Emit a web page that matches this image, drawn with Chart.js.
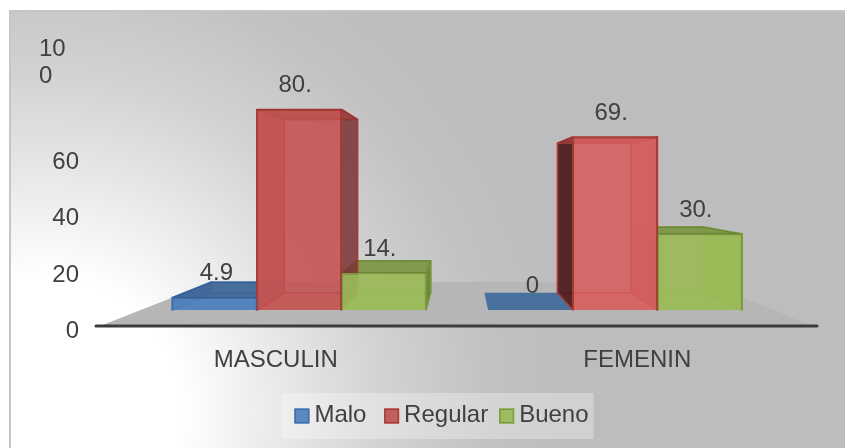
<!DOCTYPE html>
<html><head><meta charset="utf-8">
<script src="https://cdn.jsdelivr.net/npm/chart.js@4"></script>
<style>
html,body{margin:0;padding:0;background:#fff;width:845px;height:448px;overflow:hidden}
#frame{position:absolute;left:9px;top:10px;width:836px;height:438px;box-sizing:border-box;border:solid #c6c6c6;border-width:2px 0 0 2px;
background:radial-gradient(circle 620px at 4% 92%,#ffffff 0,#ffffff 22%,#e6e6e6 40%,#d2d2d2 55%,#c2c2c2 72%,#bdbdbd 85%)}
canvas{position:absolute;left:0;top:0}
</style></head><body>
<div id="frame"></div>
<canvas id="c" width="845" height="448"></canvas>
<script>
const categories=['MASCULIN','FEMENIN'];
const seriesNames=['Malo','Regular','Bueno'];
const malo=[4.9,0];
const regular=[80.2,69.2];
const bueno=[14.8,30.4];
const tickValues=[0,20,40,60,100];

const fills=['rgba(79,129,189,0.88)','rgba(196,84,82,0.84)','rgba(155,187,89,0.92)'];
const regularFronts=['rgba(196,84,82,0.84)','rgba(216,96,96,0.84)'];
const edges=['#3f6ea8','#a83a38','#7a9a3c'];
const legendFills=['#5b87c2','#bf5f5e','#a0bc62'];
const leftSide=['rgba(40,70,110,0.85)','rgba(70,25,25,0.88)','rgba(90,115,50,0.85)'];
const rightSide=['rgba(40,70,110,0.85)','rgba(110,45,45,0.75)','rgba(100,130,55,0.9)'];
const labelShift=[2,-4,-4];
const TEXT='#404040';
const FONT='Liberation Sans';
const VP={x:460,y:183,k:0.865};
function back(p){return [VP.x+(p[0]-VP.x)*VP.k,VP.y+(p[1]-VP.y)*VP.k];}
function poly(ctx,pts,fill,stroke){ctx.beginPath();pts.forEach((p,i)=>i?ctx.lineTo(p[0],p[1]):ctx.moveTo(p[0],p[1]));ctx.closePath();
 if(fill){ctx.fillStyle=fill;ctx.fill();} if(stroke){ctx.strokeStyle=stroke;ctx.lineWidth=1.5;ctx.lineJoin='round';ctx.stroke();}}

const scene={id:'scene',
 beforeDraw(chart){
  const ctx=chart.ctx;
  ctx.save();
  const hb=chart.legend.legendHitBoxes;
  const first=hb[0],last=hb[hb.length-1];
  ctx.fillStyle='rgba(255,255,255,0.3)';
  ctx.fillRect(first.left-18,first.top+first.height/2-22,last.left+last.width-first.left+23,46);
  hb.forEach((h,i)=>{
   const sy=h.top+h.height/2-7.5+1;
   ctx.fillStyle=legendFills[i];ctx.fillRect(h.left-5,sy,15,15);
   ctx.strokeStyle=edges[i];ctx.lineWidth=1.5;ctx.strokeRect(h.left-5+.75,sy+.75,13.5,13.5);
  });
  ctx.restore();
 },
 beforeDatasetsDraw(chart){
  const ctx=chart.ctx,a=chart.chartArea,y=chart.scales.y;
  const axisY=y.getPixelForValue(-6.4);
  ctx.save();
  // floor
  const backY=y.getPixelForValue(11.2);
  poly(ctx,[[a.left+5,axisY],[a.left+117,backY],[a.right-113,backY],[a.right-6,axisY]],'#b6b6b6');
  // axis line
  ctx.strokeStyle='#3c3c3c';ctx.lineWidth=3;ctx.lineCap='round';
  ctx.beginPath();ctx.moveTo(a.left+1,axisY);ctx.lineTo(a.right-1,axisY);ctx.stroke();
  // bar volumes
  [0,2,1].forEach(ds=>{
   chart.getDatasetMeta(ds).data.forEach(b=>{
    const L=b.x-b.width/2,R=b.x+b.width/2,T=b.y,B=b.base;
    const fl=[L,B],fr=[R,B],tl=[L,T],tr=[R,T];
    const bl=back(fl),br=back(fr),ul=back(tl),ur=back(tr);
    if(T>=B-0.5){ poly(ctx,[fl,fr,br,bl],'rgba(60,105,155,0.9)'); return; }
    poly(ctx,[fl,fr,br,bl],fills[ds].replace(/[\d.]+\)$/,'0.55)'));
    poly(ctx,[bl,br,ur,ul],fills[ds].replace(/[\d.]+\)$/,'0.35)'),edges[ds]);
    poly(ctx,[fl,bl,ul,tl],ul[0]<L?leftSide[ds]:fills[ds],edges[ds]);
    poly(ctx,[fr,br,ur,tr],ur[0]>R?rightSide[ds]:fills[ds],edges[ds]);
    poly(ctx,[tl,tr,ur,ul],fills[ds],edges[ds]);
    poly(ctx,[tl,tr,ur,ul],'rgba(0,0,0,0.18)');
   });
  });
  ctx.restore();
 },
 afterDatasetsDraw(chart){
  const ctx=chart.ctx;ctx.save();
  ctx.fillStyle=TEXT;ctx.font='24px "'+FONT+'"';ctx.textAlign='center';ctx.textBaseline='middle';
  chart.data.datasets.forEach((d,ds)=>{
   chart.getDatasetMeta(ds).data.forEach((b,i)=>{
    ctx.fillText(String(d.data[i].y).slice(0,3),b.x+labelShift[ds],b.y-24);
   });
  });
  ctx.restore();
 }};

const toPts=a=>a.map((v,i)=>({x:i+1,y:v}));
new Chart(document.getElementById('c'),{
 type:'bar',
 data:{labels:categories,datasets:[
  {label:seriesNames[0],data:toPts(malo),backgroundColor:fills[0],borderColor:edges[0],borderWidth:1.5},
  {label:seriesNames[1],data:toPts(regular),backgroundColor:regularFronts,borderColor:edges[1],borderWidth:1.5},
  {label:seriesNames[2],data:toPts(bueno),backgroundColor:fills[2],borderColor:edges[2],borderWidth:1.5}
 ]},
 plugins:[scene],
 options:{
  responsive:false,animation:false,
  layout:{padding:{left:70,right:27,top:45,bottom:11}},
  datasets:{bar:{categoryPercentage:0.804,barPercentage:1,grouped:true}},
  plugins:{
   tooltip:{enabled:false},
   legend:{position:'bottom',
    labels:{font:{family:FONT,size:24},color:TEXT,boxWidth:3,boxHeight:3,padding:16,
     generateLabels(ch){return ch.data.datasets.map((d,i)=>({text:i===0?d.label+' ':d.label,fillStyle:'transparent',strokeStyle:'transparent',lineWidth:0,datasetIndex:i,fontColor:TEXT}));}}}
  },
  scales:{
   x:{type:'linear',display:false,min:0.354,max:2.642,offset:false,grid:{display:false},
    afterBuildTicks(s){s.ticks=categories.map((c,i)=>({value:i+1}));}},
   x1:{type:'category',position:'bottom',labels:categories,grid:{display:false},border:{display:false},
    afterFit(s){s.height=57;},
    ticks:{font:{family:FONT,size:24},color:TEXT,padding:8,maxRotation:0}},
   y:{display:false,min:-8,max:106,grid:{display:false}},
   y1:{position:'left',min:0.53,max:101.41,grid:{display:false},border:{display:false},
    afterFit(s){s.width=25;s.paddingTop=0;s.paddingBottom=0;s._computeLabelArea=()=>undefined;},
    afterBuildTicks(s){s.ticks=tickValues.map(v=>({value:v}));},
    ticks:{autoSkip:false,font:{family:FONT,size:24,lineHeight:'27px'},color:TEXT,padding:8,
     callback(v){return v===100?['','10  ','0    ']:String(v);}}}
  }
 }
});
</script>
</body></html>
